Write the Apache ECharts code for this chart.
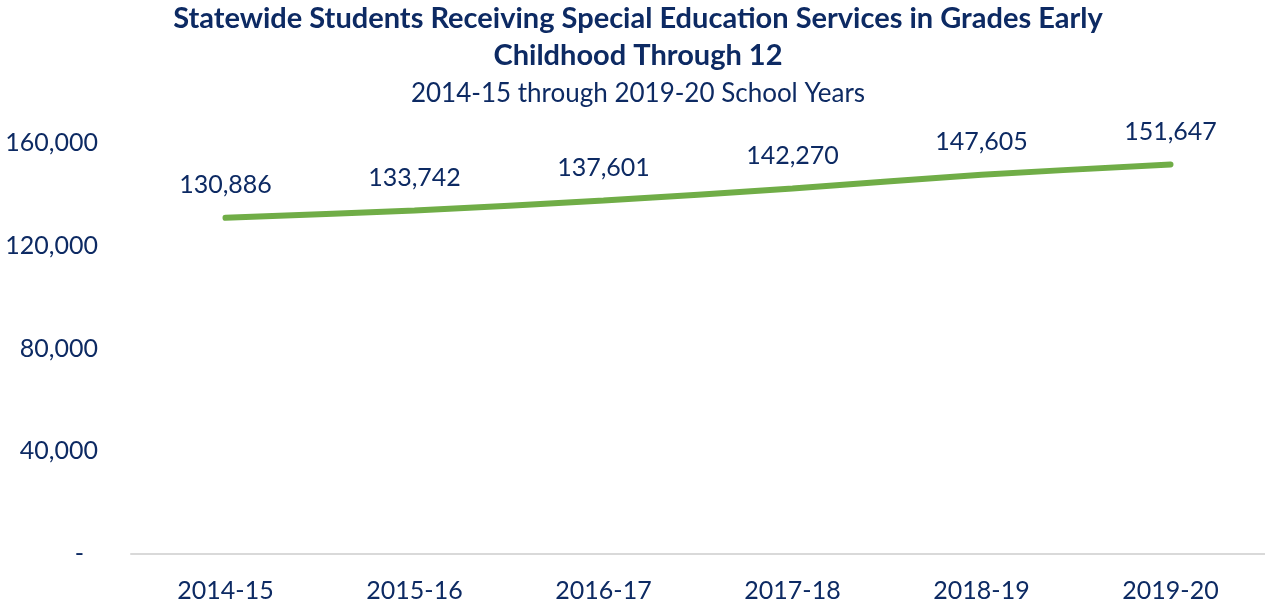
<!DOCTYPE html>
<html><head><meta charset="utf-8">
<script src="https://cdn.jsdelivr.net/npm/echarts@6/dist/echarts.min.js"></script>
<style>html,body{margin:0;padding:0;background:#fff}#c{width:1265px;height:608px}</style>
</head><body><div id="c"></div>
<script>
const categories = ['2014-15','2015-16','2016-17','2017-18','2018-19','2019-20'];
const students = [130886, 133742, 137601, 142270, 147605, 151647];
const yTicks = [0, 40000, 80000, 120000, 160000];

const navy = '#0D2A63';
const font = 'Lato, "Open Sans", sans-serif';
const chart = echarts.init(document.getElementById('c'));
chart.setOption({
  backgroundColor: '#fff',
  animation: false,
  textStyle: { fontFamily: font },
  title: [
    { text: 'Statewide Students Receiving Special Education Services in Grades Early\nChildhood Through 12',
      left: 638, textAlign: 'center', top: 0, padding: 0,
      textStyle: { color: navy, fontSize: 29, fontWeight: 'bold', lineHeight: 37, fontFamily: font } },
    { text: '2014-15 through 2019-20 School Years', left: 638, textAlign: 'center', top: 81, padding: 0,
      textStyle: { color: navy, fontSize: 26, fontWeight: 'normal', fontFamily: font } }
  ],
  grid: { left: 131, right: 0, top: 143, bottom: 54, containLabel: false },
  xAxis: {
    type: 'category', data: categories, boundaryGap: true,
    axisLine: { lineStyle: { color: '#D9D9D9', width: 2 } },
    axisTick: { show: false },
    axisLabel: { color: navy, fontSize: 25, margin: 24, fontFamily: font }
  },
  yAxis: {
    type: 'value', min: yTicks[0], max: yTicks[yTicks.length-1], interval: yTicks[1]-yTicks[0],
    splitLine: { show: false }, axisLine: { show: false }, axisTick: { show: false },
    axisLabel: { color: navy, fontSize: 25, margin: 33, fontFamily: font,
      formatter: v => v === 0 ? '{d|-}' : v.toLocaleString('en-US'),
      rich: { d: { color: navy, fontSize: 25, padding: [0, 14, 0, 0], fontFamily: font } } }
  },
  series: [{
    type: 'line', data: students, smooth: 0.3,
    symbol: 'circle', symbolSize: 1, showSymbol: true,
    itemStyle: { color: 'rgba(0,0,0,0)' },
    lineStyle: { color: '#70AD47', width: 6, cap: 'round' },
    label: { show: true, position: 'top', distance: 20, color: navy, fontSize: 25, fontFamily: font,
      formatter: p => p.value.toLocaleString('en-US') }
  }]
});
</script></body></html>
